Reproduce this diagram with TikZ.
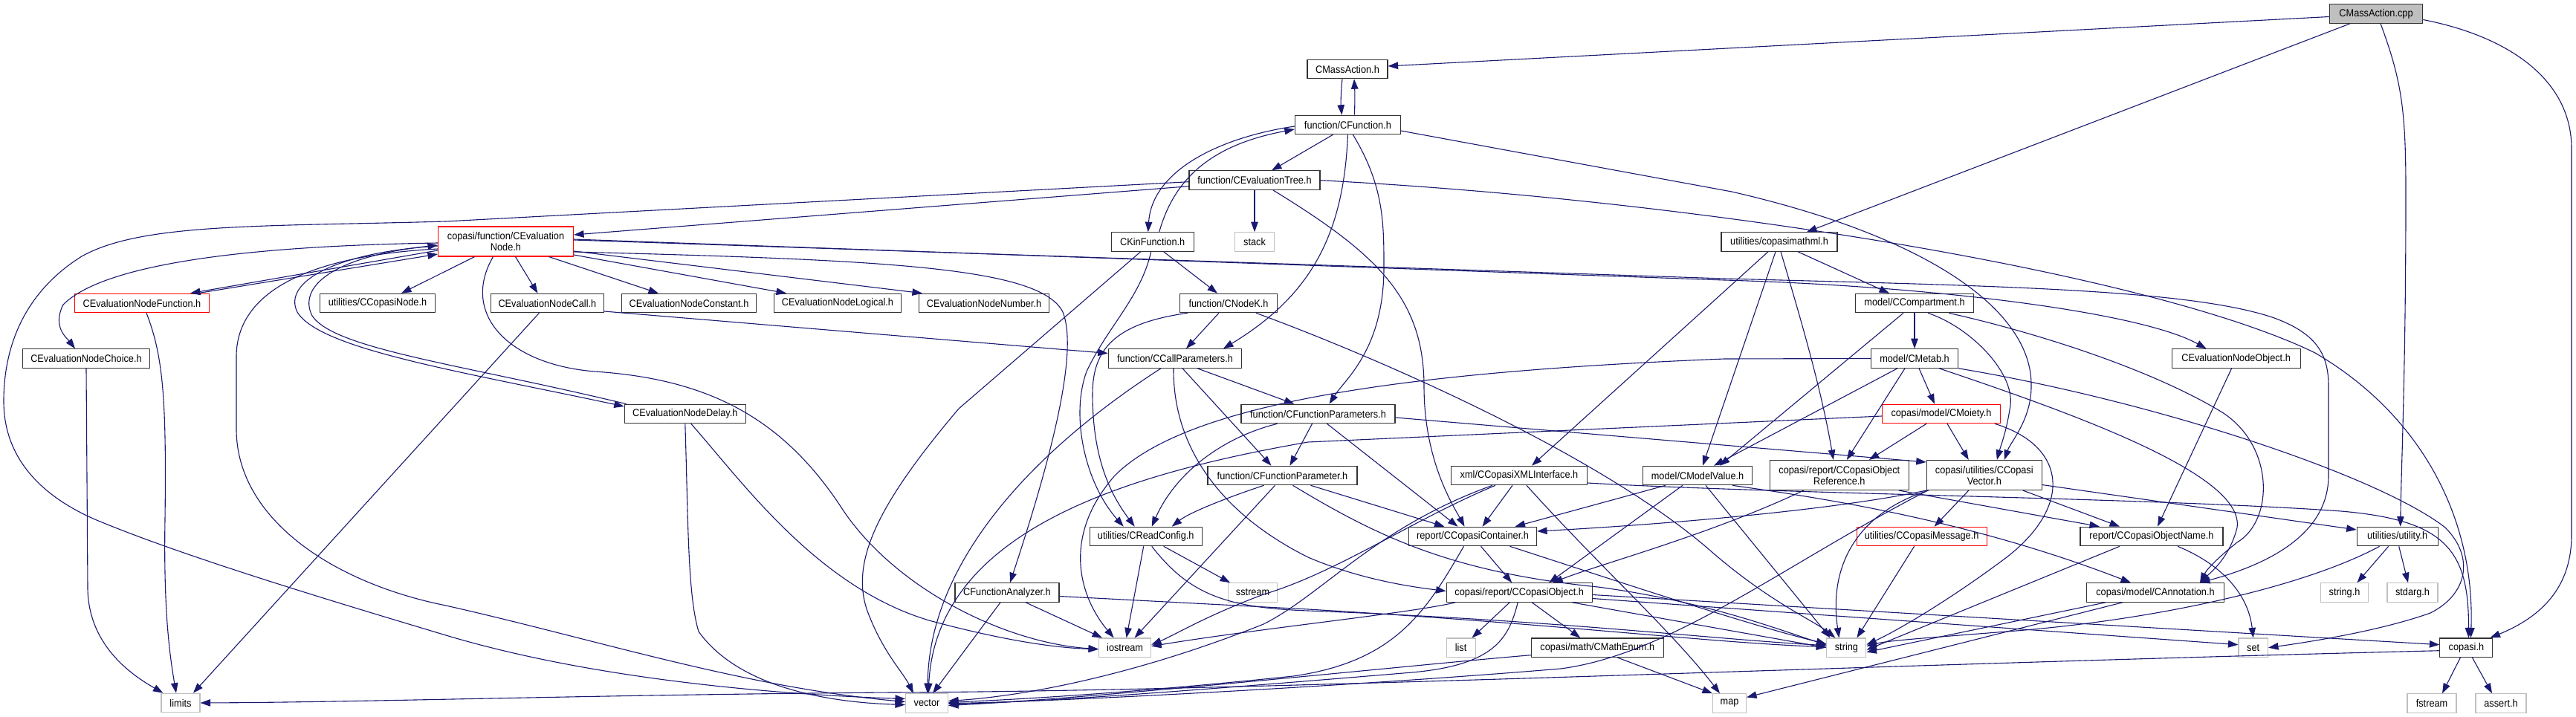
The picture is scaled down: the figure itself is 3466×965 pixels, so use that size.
\documentclass[tikz,border=0pt]{standalone}
\usepackage{fontspec}
\setmainfont[FakeStretch=0.91]{Liberation Sans}
\usetikzlibrary{arrows.meta}
\definecolor{edgec}{HTML}{191970}
\begin{document}
\begin{tikzpicture}[x=1pt,y=-1pt,
  box/.style={draw=black!80, line width=1.1pt, fill=white, rectangle, inner sep=0pt,
              minimum height=25.5pt, font=\fontsize{14}{15}\selectfont, align=center},
  redbox/.style={box, draw=red},
  greybox/.style={box, draw=black!25},
  rootbox/.style={box, fill=black!25},
  e/.style={draw=edgec, line width=1.1pt, -{Triangle[length=13.5pt,width=9.5pt]}},
]
\useasboundingbox (0,0) rectangle (3466,965);
% ---------- nodes ----------
\node[rootbox, minimum width=125.5] (cpp) at (3197,18.5) {CMassAction.cpp};
\node[box, minimum width=108] (mah) at (1813,93) {CMassAction.h};
\node[box, minimum width=142] (cf) at (1813.4,168) {function/CFunction.h};
\node[box, minimum width=176] (et) at (1688,242.7) {function/CEvaluationTree.h};
\node[box, minimum width=156] (cmml) at (2394,325.5) {utilities/copasimathml.h};
\node[box, minimum width=111] (kin) at (1550.7,325.5) {CKinFunction.h};
\node[greybox, minimum width=53.6] (stack) at (1688,325.5) {stack};
\node[redbox, minimum width=182, minimum height=40] (en) at (680.5,325) {copasi/function/CEvaluation\\Node.h};
\node[redbox, minimum width=181] (enf) at (191,408) {CEvaluationNodeFunction.h};
\node[box, minimum width=155] (cnode) at (508,408) {utilities/CCopasiNode.h};
\node[box, minimum width=152] (encall) at (736.4,408) {CEvaluationNodeCall.h};
\node[box, minimum width=181] (encon) at (927,408) {CEvaluationNodeConstant.h};
\node[box, minimum width=170.5] (enlog) at (1127,408) {CEvaluationNodeLogical.h};
\node[box, minimum width=175] (ennum) at (1324,408) {CEvaluationNodeNumber.h};
\node[box, minimum width=131] (nodek) at (1653,408) {function/CNodeK.h};
\node[box, minimum width=159] (comp) at (2576,408) {model/CCompartment.h};
\node[box, minimum width=171] (enchoice) at (116,482.5) {CEvaluationNodeChoice.h};
\node[box, minimum width=179.5] (callp) at (1581,482.5) {function/CCallParameters.h};
\node[box, minimum width=117] (metab) at (2576,482.5) {model/CMetab.h};
\node[box, minimum width=173] (enobj) at (3008.6,482.5) {CEvaluationNodeObject.h};
\node[box, minimum width=163] (endelay) at (921.8,557) {CEvaluationNodeDelay.h};
\node[box, minimum width=207] (fparams) at (1773.5,557) {function/CFunctionParameters.h};
\node[redbox, minimum width=159] (moiety) at (2612,557) {copasi/model/CMoiety.h};
\node[box, minimum width=201] (fparam) at (1725.5,640) {function/CFunctionParameter.h};
\node[box, minimum width=182.5] (xml) at (2044,640) {xml/CCopasiXMLInterface.h};
\node[box, minimum width=147] (mv) at (2284,640) {model/CModelValue.h};
\node[box, minimum width=187, minimum height=40] (objref) at (2474.8,639.5) {copasi/report/CCopasiObject\\Reference.h};
\node[box, minimum width=155, minimum height=40] (vec) at (2669.8,639.5) {copasi/utilities/CCopasi\\Vector.h};
\node[box, minimum width=151] (readcfg) at (1541.7,722) {utilities/CReadConfig.h};
\node[box, minimum width=172] (container) at (1981.5,722) {report/CCopasiContainer.h};
\node[redbox, minimum width=175] (msg) at (2585.6,722) {utilities/CCopasiMessage.h};
\node[box, minimum width=192] (objname) at (2895,722) {report/CCopasiObjectName.h};
\node[box, minimum width=109] (utility) at (3225.7,722) {utilities/utility.h};
\node[box, minimum width=140] (fanalyzer) at (1355,797.5) {CFunctionAnalyzer.h};
\node[greybox, minimum width=66] (sstream) at (1685.6,797.5) {sstream};
\node[box, minimum width=196] (object) at (2044.2,797.5) {copasi/report/CCopasiObject.h};
\node[box, minimum width=185] (annot) at (2900,797.5) {copasi/model/CAnnotation.h};
\node[greybox, minimum width=64] (stringh) at (3154.5,797.5) {string.h};
\node[greybox, minimum width=68] (stdarg) at (3246,797.5) {stdarg.h};
\node[greybox, minimum width=70] (iostream) at (1513.6,871.7) {iostream};
\node[greybox, minimum width=39] (list) at (1965.6,871.7) {list};
\node[box, minimum width=178] (mathenum) at (2149.3,871.7) {copasi/math/CMathEnum.h};
\node[greybox, minimum width=53] (string) at (2484.4,871.7) {string};
\node[greybox, minimum width=39.4] (set) at (3031.7,871.7) {set};
\node[box, minimum width=71] (copasih) at (3318.4,871.7) {copasi.h};
\node[greybox, minimum width=52] (limits) at (243,946) {limits};
\node[greybox, minimum width=57] (vector) at (1247,946.5) {vector};
\node[greybox, minimum width=45] (map) at (2327,946.5) {map};
\node[greybox, minimum width=66] (fstream) at (3272,946.5) {fstream};
\node[greybox, minimum width=68] (assert) at (3365,946.5) {assert.h};
% ---------- edges ----------
% CMassAction.cpp
\draw[e] ([yshift=-4]cpp.west) -- ([yshift=4]mah.east);
\draw[e] ([xshift=-35]cpp.south) -- ([xshift=37]cmml.north);
\draw[e] ([xshift=6]cpp.south) .. controls (3232,110) and (3237,150) .. (3237,260) .. controls (3237,500) and (3231,620) .. ([xshift=4]utility.north);
\draw[e] ([yshift=-8]cpp.east) .. controls (3380,50) and (3460,110) .. (3460,200) -- (3460,720) .. controls (3460,790) and (3420,830) .. ([xshift=-4]copasih.north east);
% CMassAction.h / CFunction.h
\draw[e] ([xshift=-7]mah.south) .. controls (1804,125) and (1804,140) .. ([xshift=-8]cf.north);
\draw[e] ([xshift=9]cf.north) .. controls (1823,140) and (1823,125) .. ([xshift=9]mah.south);
\draw[e] ([xshift=-20]cf.south) -- ([xshift=23]et.north);
\draw[e] ([yshift=-2]cf.west) .. controls (1640,185) and (1550,230) .. ([xshift=-6]kin.north);
\draw[e] ([xshift=9]kin.north) .. controls (1580,240) and (1630,195) .. ([yshift=-6]cf.west);
\draw[e] (cf.south) .. controls (1808,320) and (1760,400) .. ([xshift=65]callp.north);
\draw[e] ([xshift=7]cf.south) .. controls (1862,250) and (1862,300) .. (1862,360) .. controls (1862,470) and (1810,510) .. ([xshift=15]fparams.north);
\draw[e] ([yshift=-8]cf.east) -- (2330,258) .. controls (2600,320) and (2735,420) .. (2733,520) .. controls (2733,565) and (2705,595) .. ([xshift=27]vec.north);
% CEvaluationTree.h
\draw[e] ([yshift=-8]et.west) -- ([yshift=9]en.east);
\draw[e] ([yshift=-2]et.west) -- (600,298) .. controls (350,305) and (190,300) .. (110,345) .. controls (30,395) and (5,470) .. (5,540) .. controls (5,620) and (60,670) .. (130,700) .. controls (250,750) and (450,810) .. (600,855) .. controls (800,915) and (1050,935) .. ([yshift=6]vector.west);
\draw[e] (et.south) -- (stack.north);
\draw[e] ([xshift=25]et.south) .. controls (1850,340) and (1916,400) .. (1916,520) .. controls (1916,620) and (1955,680) .. ([xshift=-11]container.north);
\draw[e] (et.east) .. controls (2300,270) and (2900,370) .. (3115,475) .. controls (3260,560) and (3330,700) .. ([xshift=6]copasih.north);
% CEvaluationNode.h
\draw[e] ([yshift=-12]en.west) -- ([xshift=65]enf.north);
\draw[e] ([xshift=75]enf.north) -- ([yshift=-17]en.west);
\draw[e] ([yshift=-2]en.west) .. controls (400,330) and (150,345) .. (85,410) .. controls (70,440) and (90,455) .. ([xshift=-15]enchoice.north);
\draw[e] ([xshift=-42]en.south) -- ([xshift=32]cnode.north);
\draw[e] ([xshift=13]en.south) -- ([xshift=-13]encall.north);
\draw[e] ([xshift=58]en.south) -- ([xshift=-41]encon.north);
\draw[e] ([yshift=-18]en.east) -- ([xshift=-69]enlog.north);
\draw[e] ([yshift=-13]en.east) -- ([xshift=5]ennum.north west);
\draw[e] ([yshift=-14]en.east) .. controls (1200,350) and (1400,360) .. (1430,420) .. controls (1450,470) and (1420,600) .. ([xshift=4]fanalyzer.north);
\draw[e] ([yshift=3]en.east) -- (2320,377) .. controls (2600,385) and (2880,420) .. ([xshift=-40]enobj.north);
\draw[e] ([yshift=2]en.east) -- (2320,375) .. controls (2700,385) and (2950,390) .. (3060,428) .. controls (3120,450) and (3133,480) .. (3133,520) -- (3133,640) .. controls (3133,720) and (3050,760) .. ([xshift=60]annot.north);
\draw[e] ([yshift=-6]en.west) .. controls (450,340) and (380,380) .. (400,420) .. controls (430,470) and (620,500) .. ([yshift=10]endelay.west);
\draw[e] ([xshift=3]endelay.north west) .. controls (620,490) and (450,470) .. (420,425) .. controls (400,385) and (450,345) .. ([yshift=-5]en.west);
\draw[e] ([yshift=-10]en.west) .. controls (400,345) and (318,400) .. (318,480) -- (318,580) .. controls (320,700) and (450,785) .. (600,815) .. controls (800,860) and (1000,925) .. ([yshift=2]vector.west);
\draw[e] ([xshift=-17]en.south) .. controls (620,420) and (680,490) .. (800,500) .. controls (950,510) and (1050,560) .. (1130,680) .. controls (1200,790) and (1350,865) .. ([yshift=-2]iostream.west);
% children of CEvaluationNode
\draw[e] ([xshift=6]enf.south) .. controls (220,480) and (224,540) .. (222,700) .. controls (220,820) and (228,880) .. ([xshift=-6]limits.north);
\draw[e] (enchoice.south) -- (118,790) .. controls (118,870) and (180,910) .. ([xshift=3]limits.north west);
\draw[e] ([xshift=-11]encall.south) -- ([xshift=17]limits.north);
\draw[e] ([yshift=-11]encall.east) -- ([yshift=7]callp.west);
\draw[e] ([xshift=8]endelay.south) .. controls (1000,650) and (1100,790) .. (1250,835) .. controls (1350,862) and (1420,872) .. ([yshift=-2]iostream.west);
\draw[e] (endelay.south) .. controls (926,700) and (925,800) .. (940,850) .. controls (990,920) and (1100,945) .. ([yshift=-2]vector.west);
% CKinFunction.h
\draw[e] ([xshift=15]kin.south) -- ([xshift=-15]nodek.north);
\draw[e] ([xshift=-2]kin.south) .. controls (1535,400) and (1490,440) .. (1462,500) .. controls (1440,560) and (1460,650) .. ([xshift=-30]readcfg.north);
\draw[e] ([xshift=-16]kin.south) -- (1290,550) .. controls (1180,680) and (1140,760) .. (1170,830) .. controls (1190,880) and (1215,905) .. ([xshift=-18]vector.north);
% CNodeK.h
\draw[e] ([xshift=-13]nodek.south) -- ([xshift=15]callp.north);
\draw[e] ([xshift=-55]nodek.south) .. controls (1500,435) and (1470,470) .. (1470,530) .. controls (1470,610) and (1490,660) .. ([xshift=-15]readcfg.north);
\draw[e] ([xshift=37]nodek.south) .. controls (1850,480) and (2150,610) .. (2300,740) .. controls (2380,810) and (2440,835) .. ([xshift=-15]string.north);
% CCallParameters.h
\draw[e] ([xshift=30]callp.south) -- ([xshift=-32]fparams.north);
\draw[e] ([xshift=10]callp.south) -- ([xshift=-15]fparam.north);
\draw[e] ([xshift=-19]callp.south) .. controls (1400,600) and (1250,750) .. ([xshift=1]vector.north);
\draw[e] ([xshift=-2]callp.south) .. controls (1578,600) and (1640,690) .. (1760,750) .. controls (1830,780) and (1900,790) .. ([yshift=2]object.west);
% CFunctionParameters.h
\draw[e] ([xshift=-8]fparams.south) -- ([xshift=10]fparam.north);
\draw[e] ([xshift=12]fparams.south) -- ([xshift=-20]container.north);
\draw[e] ([xshift=-55]fparams.south) .. controls (1640,590) and (1580,640) .. ([xshift=8]readcfg.north);
\draw[e] ([yshift=-5]fparams.east) -- ([yshift=-3]vec.north west);
% CFunctionParameter.h
\draw[e] ([xshift=-25]fparam.south) .. controls (1650,670) and (1600,690) .. ([xshift=35]readcfg.north);
\draw[e] ([xshift=-10]fparam.south) -- ([xshift=13]iostream.north);
\draw[e] ([xshift=38]fparam.south) -- ([xshift=-38]container.north);
\draw[e] ([xshift=14]fparam.south) .. controls (1850,720) and (1950,770) .. (2150,790) .. controls (2300,810) and (2400,850) .. ([yshift=4]string.west);
% CReadConfig.h
\draw[e] ([xshift=-3]readcfg.south) -- ([xshift=2]iostream.north);
\draw[e] ([xshift=24]readcfg.south) -- ([xshift=3]sstream.north west);
\draw[e] ([xshift=8]readcfg.south) .. controls (1600,800) and (1650,818) .. (1760,822) .. controls (2100,835) and (2300,860) .. ([yshift=3]string.west);
% CFunctionAnalyzer.h
\draw[e] ([xshift=25]fanalyzer.south) -- ([xshift=5]iostream.north west);
\draw[e] ([xshift=-9]fanalyzer.south) -- ([xshift=8]vector.north);
\draw[e] ([yshift=-5]fanalyzer.east) -- (1760,820) .. controls (2100,840) and (2300,865) .. ([yshift=1]string.west);
% copasimathml.h
\draw[e] ([xshift=25]cmml.south) -- ([xshift=-34]comp.north);
\draw[e] ([xshift=-5]cmml.south) -- ([xshift=7]mv.north);
\draw[e] ([xshift=2]cmml.south) .. controls (2420,420) and (2450,520) .. ([xshift=-8]objref.north);
\draw[e] ([xshift=-15]cmml.south) -- ([xshift=17]xml.north);
% CCompartment.h
\draw[e] (comp.south) -- (metab.north);
\draw[e] ([xshift=-15]comp.south) -- ([xshift=30]mv.north);
\draw[e] ([xshift=18]comp.south) .. controls (2650,440) and (2710,500) .. (2705,545) .. controls (2700,580) and (2692,600) .. ([xshift=17]vec.north);
\draw[e] ([xshift=46]comp.south) .. controls (2750,450) and (2900,500) .. (2990,555) .. controls (3060,600) and (3060,700) .. (3010,730) .. controls (2985,750) and (2970,765) .. ([xshift=60]annot.north);
% CMetab.h
\draw[e] ([xshift=6]metab.south) -- ([xshift=-9]moiety.north);
\draw[e] ([xshift=-13]metab.south) -- ([xshift=10]objref.north);
\draw[e] ([xshift=-23]metab.south) -- ([xshift=22]mv.north);
\draw[e] (metab.west) -- (2320,483) .. controls (1900,500) and (1600,540) .. (1500,640) .. controls (1430,720) and (1450,800) .. ([xshift=-15]iostream.north);
\draw[e] ([xshift=33]metab.south) .. controls (2800,560) and (3020,640) .. (3010,710) .. controls (3000,750) and (2975,770) .. ([xshift=60]annot.north);
\draw[e] (metab.south east) .. controls (2900,540) and (3200,640) .. (3290,710) .. controls (3330,750) and (3320,800) .. (3270,825) .. controls (3200,850) and (3100,865) .. (set.east);
% CMoiety.h
\draw[e] ([xshift=-20]moiety.south) -- ([xshift=40]objref.north);
\draw[e] ([xshift=8]moiety.south) -- ([xshift=-21]vec.north);
\draw[e] ([xshift=72]moiety.south) .. controls (2780,600) and (2790,680) .. (2700,750) .. controls (2620,810) and (2550,850) .. ([yshift=4]string.east);
\draw[e] ([yshift=-3]moiety.west) -- (1760,595) .. controls (1500,640) and (1260,720) .. ([xshift=2]vector.north);
% CModelValue.h
\draw[e] ([xshift=-43]mv.south) -- ([xshift=57]container.north);
\draw[e] ([xshift=-20]mv.south) -- ([xshift=40]object.north);
\draw[e] ([xshift=11]mv.south) -- ([xshift=-22]string.north);
\draw[e] ([xshift=47]mv.south) .. controls (2450,670) and (2650,700) .. ([xshift=-33]annot.north);
% CCopasiXMLInterface.h
\draw[e] ([xshift=-9]xml.south) -- ([xshift=13]container.north);
\draw[e] ([xshift=-32]xml.south) .. controls (1900,700) and (1800,770) .. (1700,800) .. controls (1620,830) and (1580,855) .. ([yshift=4]iostream.east);
\draw[e] ([xshift=-36]xml.south) .. controls (1850,710) and (1780,800) .. (1700,840) .. controls (1550,900) and (1400,935) .. ([yshift=3]vector.east);
\draw[e] ([xshift=10]xml.south) .. controls (2150,760) and (2250,850) .. ([xshift=-13]map.north);
\draw[e] ([yshift=-10]xml.east) .. controls (2400,665) and (2900,670) .. (3150,688) .. controls (3290,700) and (3322,740) .. ([xshift=3]copasih.north);
% CCopasiContainer.h
\draw[e] ([xshift=11]container.south) -- ([xshift=-10]object.north);
\draw[e] ([xshift=-12]container.south) .. controls (1920,820) and (1880,890) .. (1740,910) .. controls (1500,935) and (1350,942) .. ([yshift=1]vector.east);
\draw[e] ([xshift=50]container.south) .. controls (2200,790) and (2350,840) .. ([yshift=5]string.west);
% CCopasiObject.h
\draw[e] ([xshift=-13]object.south) -- ([xshift=15]list.north);
\draw[e] ([xshift=17]object.south) -- ([xshift=-23]mathenum.north);
\draw[e] ([xshift=-2]object.south) .. controls (2030,860) and (2010,895) .. (1900,905) .. controls (1600,930) and (1400,945) .. ([yshift=-1]vector.east);
\draw[e] ([xshift=-86]object.south) .. controls (1900,825) and (1700,845) .. ([yshift=2]iostream.east);
\draw[e] ([xshift=71]object.south) -- (string.west);
\draw[e] ([yshift=-8]object.east) -- ([yshift=4]set.west);
\draw[e] ([yshift=-3]object.east) -- ([yshift=4]copasih.west);
% CMathEnum.h
\draw[e] ([yshift=-10]mathenum.west) .. controls (1900,895) and (1500,938) .. ([yshift=-3]vector.east);
\draw[e] ([xshift=27]mathenum.south) -- (map.north west);
% CCopasiVector.h
\draw[e] ([xshift=-21]vec.south) -- ([xshift=17]msg.north);
\draw[e] ([xshift=52]vec.south) -- ([xshift=-43]objname.north);
\draw[e] ([yshift=-13]vec.east) -- ([yshift=9]utility.west);
\draw[e] (vec.south west) .. controls (2450,690) and (2200,708) .. ([yshift=7]container.east);
\draw[e] ([xshift=-75]vec.south) .. controls (2500,690) and (2460,760) .. ([xshift=-10]string.north);
\draw[e] ([xshift=2]vec.south west) .. controls (2400,760) and (2250,880) .. (2100,900) .. controls (1800,925) and (1400,945) .. (vector.east);
% CCopasiObjectReference.h
\draw[e] ([xshift=-48]objref.south) .. controls (2300,720) and (2150,760) .. ([xshift=45]object.north);
\draw[e] ([xshift=80]objref.south) -- ([xshift=-70]objname.north);
% others
\draw[e] ([xshift=-10]msg.south) -- ([xshift=14]string.north);
\draw[e] ([xshift=-43]objname.south) -- ([yshift=-3]string.east);
\draw[e] ([xshift=35]objname.south) .. controls (2990,760) and (3025,800) .. (set.north);
\draw[e] ([xshift=-67]annot.south) -- ([yshift=-6]string.east);
\draw[e] ([xshift=-44]annot.south) -- ([yshift=8]map.east);
\draw[e] ([xshift=-6]enobj.south) -- ([xshift=8]objname.north);
\draw[e] ([xshift=-24]utility.south) .. controls (3100,790) and (2900,835) .. (2700,850) .. controls (2600,858) and (2540,862) .. ([yshift=2]string.east);
\draw[e] ([xshift=-12]utility.south) -- ([xshift=17]stringh.north);
\draw[e] ([xshift=2]utility.south) -- ([xshift=-6]stdarg.north);
\draw[e] ([xshift=-8]copasih.south) -- ([xshift=14]fstream.north);
\draw[e] ([xshift=8]copasih.south) -- ([xshift=-12]assert.north);
\draw[e] ([yshift=-4]copasih.west) .. controls (2500,895) and (1700,930) .. (1200,932) .. controls (800,935) and (500,945) .. (limits.east);
\end{tikzpicture}
\end{document}
